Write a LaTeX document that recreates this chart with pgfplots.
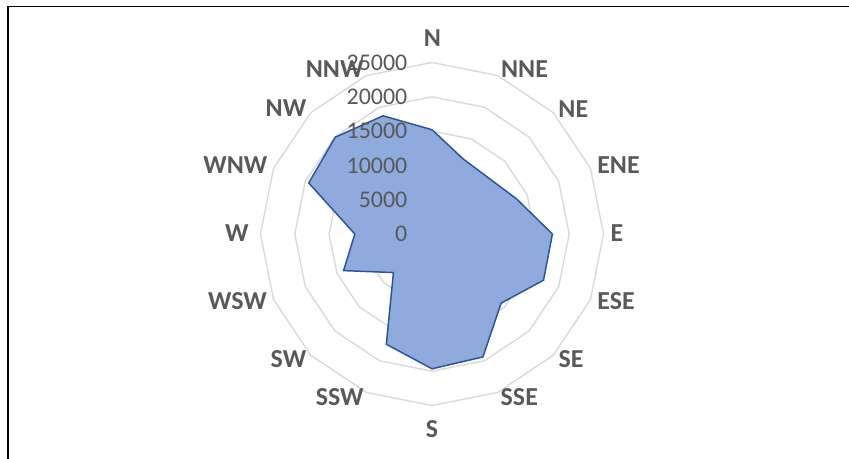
\documentclass[border=0pt]{standalone}
\usepackage{pgfplots}
\pgfplotsset{compat=1.18}
\usepgfplotslibrary{polar}
\usepackage{fontspec}
\setmainfont{Carlito}
\definecolor{fillblue}{HTML}{8FAADC}
\definecolor{edgeblue}{HTML}{2F5597}
\definecolor{ringgray}{HTML}{D9D9D9}
\definecolor{txtgray}{HTML}{595959}
\tikzset{
  cat/.style={font=\fontsize{26}{30}\selectfont\bfseries, text=txtgray, inner sep=0pt, anchor=center},
  tl/.style={font=\fontsize{24}{28}\selectfont, text=txtgray, anchor=east, xshift=-24.5bp, inner sep=0pt},
}
\begin{document}
\begin{tikzpicture}[x=1bp,y=1bp]
\path[use as bounding box] (0,0) rectangle (849,459);
\draw[line width=1.6bp,black] (8,0) -- (8,452.5) -- (849,452.5);
\begin{polaraxis}[
  at={(432bp,225bp)}, anchor=center,
  scale only axis, width=343bp, height=343bp,
  xmin=0, xmax=360, ymin=0, ymax=25000,
  hide axis, clip=false,
]
\pgfplotsinvokeforeach{5000,10000,15000,20000,25000}{
  \addplot[draw=ringgray, line width=1.4bp, line join=round, mark=none] coordinates {
    (0,#1) (22.5,#1) (45,#1) (67.5,#1) (90,#1) (112.5,#1) (135,#1) (157.5,#1)
    (180,#1) (202.5,#1) (225,#1) (247.5,#1) (270,#1) (292.5,#1) (315,#1) (337.5,#1) (360,#1)};
}
\addplot[fill=fillblue, draw=edgeblue, line width=1.5bp, line join=miter, mark=none] coordinates {
  (90,15200) (67.5,11850) (45,11600) (22.5,13350) (0,17550) (-22.5,17600)
  (-45,14250) (-67.5,19400) (-90,19650) (-112.5,17400) (-135,7950) (-157.5,13950)
  (-180,11250) (-202.5,19450) (-225,19950) (-247.5,18650) (-270,15200)} -- cycle;
\node[tl] at (axis cs:90,0) {0};
\node[tl] at (axis cs:90,5000) {5000};
\node[tl] at (axis cs:90,10000) {10000};
\node[tl] at (axis cs:90,15000) {15000};
\node[tl] at (axis cs:90,20000) {20000};
\node[tl] at (axis cs:90,25000) {25000};
\end{polaraxis}
% category labels (centres in pixel positions, y measured from the bottom)
\node[cat] at (432.5,421) {N};
\node[cat] at (524.5,390) {NNE};
\node[cat] at (573.3,350) {NE};
\node[cat] at (618.5,294) {ENE};
\node[cat] at (617,226) {E};
\node[cat] at (616,158.3) {ESE};
\node[cat] at (571,100) {SE};
\node[cat] at (519.3,61.7) {SSE};
\node[cat] at (432,30) {S};
\node[cat] at (339.7,61.7) {SSW};
\node[cat] at (288.5,100) {SW};
\node[cat] at (237.5,158.3) {WSW};
\node[cat] at (236.8,226) {W};
\node[cat] at (235.3,294) {WNW};
\node[cat] at (286,350.7) {NW};
\node[cat] at (334.7,390) {NNW};
\end{tikzpicture}
\end{document}
